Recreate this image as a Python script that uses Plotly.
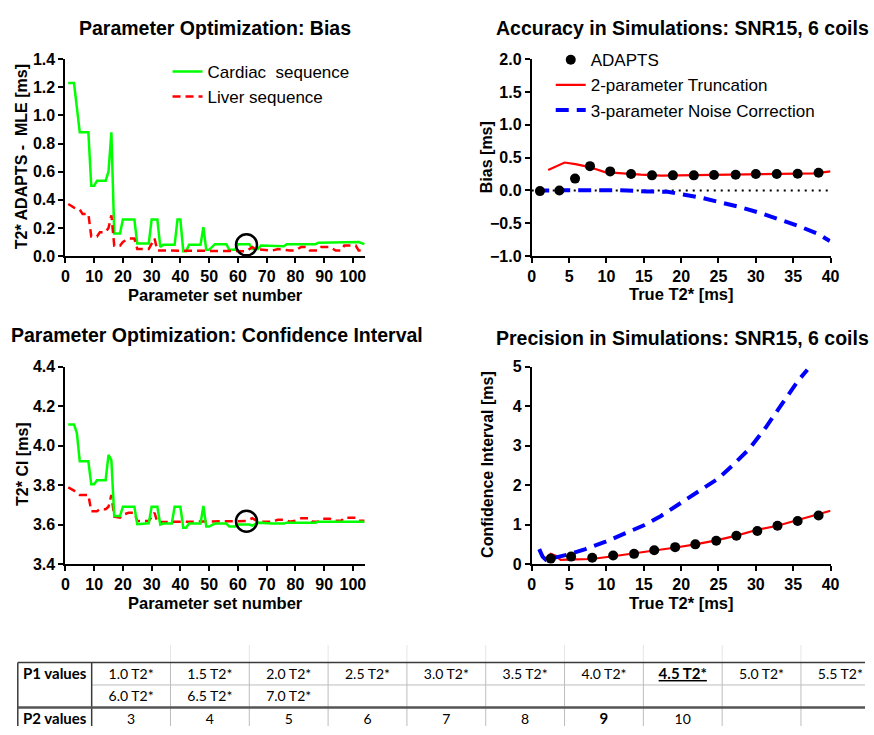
import plotly.graph_objects as go

# ---------------- Data: Parameter optimization, bias ----------------
cardiac_bias_x = [1, 3, 5, 8, 9, 10, 11, 14, 15, 16, 17, 19, 20, 24, 25, 29, 30, 32, 33, 34, 38, 39, 40, 41, 42,
                  43, 47, 48, 49, 50, 52, 56, 57, 59, 60, 64, 65, 67, 68, 72, 73, 76, 77, 87, 88, 96, 97, 102, 104]
cardiac_bias_y = [1.23, 1.23, 0.88, 0.88, 0.50, 0.50, 0.535, 0.535, 0.60, 0.88, 0.16, 0.16, 0.26, 0.26, 0.09, 0.09,
                  0.26, 0.26, 0.065, 0.08, 0.08, 0.26, 0.26, 0.035, 0.035, 0.08, 0.08, 0.205, 0.045, 0.045, 0.085,
                  0.085, 0.045, 0.045, 0.085, 0.085, 0.05, 0.05, 0.075, 0.075, 0.07, 0.07, 0.085, 0.085, 0.095,
                  0.095, 0.10, 0.10, 0.085]
liver_bias_x = [1, 3, 5, 6, 8, 9, 11, 12, 14, 15, 16, 17, 19, 20, 22, 24, 25, 29, 31, 32, 33, 60, 63, 65, 66, 72,
                74, 78, 80, 82, 84, 85, 88, 89, 92, 94, 96, 97, 101, 102, 104]
liver_bias_y = [0.37, 0.345, 0.33, 0.30, 0.30, 0.14, 0.14, 0.17, 0.17, 0.20, 0.29, 0.074, 0.074, 0.10, 0.125, 0.125,
                0.05, 0.05, 0.125, 0.04, 0.04, 0.04, 0.035, 0.065, 0.05, 0.04, 0.05, 0.04, 0.04, 0.065, 0.065,
                0.04, 0.04, 0.065, 0.065, 0.04, 0.04, 0.075, 0.075, 0.04, 0.04]
optimum_set = [63]
optimum_bias = [0.08]

# ---------------- Data: Parameter optimization, confidence interval ----------------
cardiac_ci_x = [1, 3, 4, 5, 8, 9, 10, 11, 14, 15, 16, 17, 19, 20, 24, 25, 29, 30, 32, 33, 34, 37, 38, 40, 41, 42,
                43, 47, 48, 49, 50, 52, 56, 57, 59, 60, 64, 65, 67, 72, 76, 77, 87, 88, 104]
cardiac_ci_y = [4.107, 4.107, 4.063, 3.92, 3.92, 3.804, 3.804, 3.824, 3.824, 3.953, 3.926, 3.643, 3.643, 3.69,
                3.69, 3.602, 3.607, 3.69, 3.69, 3.60, 3.605, 3.605, 3.69, 3.69, 3.584, 3.584, 3.605, 3.605, 3.695,
                3.59, 3.59, 3.605, 3.605, 3.59, 3.59, 3.60, 3.60, 3.595, 3.61, 3.605, 3.605, 3.61, 3.61, 3.615,
                3.615]
liver_ci_x = [1, 3, 5, 8, 9, 11, 12, 14, 15, 16, 17, 19, 20, 22, 24, 25, 29, 31, 32, 58, 60, 63, 65, 67, 72, 74,
              76, 78, 80, 82, 85, 86, 88, 89, 92, 93, 96, 97, 101, 102, 104]
liver_ci_y = [3.788, 3.772, 3.75, 3.75, 3.668, 3.668, 3.678, 3.678, 3.69, 3.75, 3.64, 3.635, 3.65, 3.66, 3.66,
              3.618, 3.618, 3.66, 3.613, 3.615, 3.618, 3.618, 3.632, 3.615, 3.615, 3.625, 3.625, 3.615, 3.62,
              3.632, 3.632, 3.615, 3.615, 3.63, 3.63, 3.62, 3.62, 3.635, 3.635, 3.62, 3.62]
optimum_ci = [3.617]

# ---------------- Data: Accuracy in simulations ----------------
adapts_bias_t2 = [1.1, 3.7, 5.8, 7.8, 10.5, 13.3, 16.1, 18.9, 21.7, 24.4, 27.3, 30.0, 32.8, 35.6, 38.4]
adapts_bias = [-0.01, 0.0, 0.18, 0.37, 0.29, 0.25, 0.23, 0.23, 0.23, 0.235, 0.24, 0.25, 0.25, 0.255, 0.27]
trunc_bias_t2 = [2.2, 3.9, 4.4, 5.85, 7.6, 9.8, 12.0, 14.6, 17.3, 20.8, 26.9, 31.3, 37.9, 40.0]
trunc_bias = [0.31, 0.39, 0.425, 0.40, 0.36, 0.28, 0.26, 0.24, 0.225, 0.23, 0.24, 0.25, 0.26, 0.29]
noise_bias_t2 = [0.6, 11.1, 15.5, 18.2, 19.9, 22.5, 25.2, 27.8, 30.5, 33.1, 35.7, 38.4, 39.9]
noise_bias = [0.0, 0.005, -0.015, -0.02, -0.055, -0.105, -0.18, -0.25, -0.34, -0.44, -0.54, -0.665, -0.77]

# ---------------- Data: Precision in simulations ----------------
adapts_ci_t2 = [2.55, 5.27, 8.1, 10.9, 13.7, 16.4, 19.2, 21.9, 24.7, 27.4, 30.2, 32.9, 35.6, 38.4]
adapts_ci = [0.14, 0.19, 0.16, 0.22, 0.26, 0.35, 0.43, 0.50, 0.59, 0.72, 0.84, 0.97, 1.09, 1.23]
trunc_ci_t2 = [2.33, 2.55, 3.2, 3.87, 5.85, 8.0, 10.9, 13.8, 16.4, 19.3, 21.9, 24.7, 27.4, 30.2, 32.9, 35.7,
               38.4, 40.0]
trunc_ci = [0.15, 0.26, 0.21, 0.107, 0.12, 0.13, 0.20, 0.27, 0.34, 0.42, 0.50, 0.60, 0.72, 0.87, 0.97, 1.12,
            1.25, 1.35]
noise_ci_t2 = [1.0, 1.45, 1.9, 3.4, 5.0, 7.2, 9.8, 12.4, 15.1, 17.3, 19.9, 22.5, 25.0, 26.9, 29.1, 31.3, 33.5,
               35.7, 36.9]
noise_ci = [0.38, 0.19, 0.11, 0.17, 0.25, 0.38, 0.56, 0.77, 0.99, 1.22, 1.55, 1.88, 2.17, 2.5, 2.91, 3.45, 4.03,
            4.65, 4.92]

# ---------------- Data: table ----------------
row_labels = ["P1 values", "", "P2 values"]
p1_values_row1 = ["1.0 T2*", "1.5 T2*", "2.0 T2*", "2.5 T2*", "3.0 T2*", "3.5 T2*", "4.0 T2*", "4.5 T2*",
                  "5.0 T2*", "5.5 T2*"]
p1_values_row2 = ["6.0 T2*", "6.5 T2*", "7.0 T2*", "", "", "", "", "", "", ""]
p2_values = ["3", "4", "5", "6", "7", "8", "9", "10", "", ""]
chosen_p1 = "4.5 T2*"
chosen_p2 = "9"

# ---------------- Styling ----------------
W, H = 874, 735
FONT = "Liberation Sans, Arial, sans-serif"
GREEN, RED, BLUE = "#00FF00", "#FF0000", "#0000FF"
BOLD = dict(family=FONT, size=16, color="black", weight="bold")


def px_x(p):
    return p / W


def px_y(p):
    return 1 - p / H


fig = go.Figure()

# Top-left
fig.add_trace(go.Scatter(x=cardiac_bias_x, y=cardiac_bias_y, mode="lines", name="Cardiac  sequence",
                         line=dict(color=GREEN, width=2.5), xaxis="x", yaxis="y", legend="legend"))
fig.add_trace(go.Scatter(x=liver_bias_x, y=liver_bias_y, mode="lines", name="Liver sequence",
                         line=dict(color=RED, width=2.5, dash="8px,5px"), xaxis="x", yaxis="y", legend="legend"))
fig.add_trace(go.Scatter(x=optimum_set, y=optimum_bias, mode="markers", showlegend=False,
                         marker=dict(symbol="circle-open", size=21, color="black", line=dict(width=2.5)),
                         xaxis="x", yaxis="y"))

# Bottom-left
fig.add_trace(go.Scatter(x=liver_ci_x, y=liver_ci_y, mode="lines", showlegend=False,
                         line=dict(color=RED, width=2.5, dash="8px,5px"), xaxis="x3", yaxis="y3"))
fig.add_trace(go.Scatter(x=cardiac_ci_x, y=cardiac_ci_y, mode="lines", showlegend=False,
                         line=dict(color=GREEN, width=2.5), xaxis="x3", yaxis="y3"))
fig.add_trace(go.Scatter(x=optimum_set, y=optimum_ci, mode="markers", showlegend=False,
                         marker=dict(symbol="circle-open", size=21, color="black", line=dict(width=2.5)),
                         xaxis="x3", yaxis="y3"))

# Top-right
fig.add_trace(go.Scatter(x=trunc_bias_t2, y=trunc_bias, mode="lines", name="2-parameter Truncation",
                         line=dict(color=RED, width=2.2), xaxis="x2", yaxis="y2", legend="legend2", legendrank=2))
fig.add_trace(go.Scatter(x=noise_bias_t2, y=noise_bias, mode="lines", name="3-parameter Noise Correction",
                         line=dict(color=BLUE, width=4, dash="13px,8px"), xaxis="x2", yaxis="y2",
                         legend="legend2", legendrank=3))
fig.add_trace(go.Scatter(x=adapts_bias_t2, y=adapts_bias, mode="markers", name="ADAPTS",
                         marker=dict(color="black", size=10), xaxis="x2", yaxis="y2", legend="legend2",
                         legendrank=1))

# Bottom-right
fig.add_trace(go.Scatter(x=trunc_ci_t2, y=trunc_ci, mode="lines", showlegend=False,
                         line=dict(color=RED, width=2.2), xaxis="x4", yaxis="y4"))
fig.add_trace(go.Scatter(x=noise_ci_t2, y=noise_ci, mode="lines", showlegend=False,
                         line=dict(color=BLUE, width=4, dash="13px,8px"), xaxis="x4", yaxis="y4"))
fig.add_trace(go.Scatter(x=adapts_ci_t2, y=adapts_ci, mode="markers", showlegend=False,
                         marker=dict(color="black", size=10), xaxis="x4", yaxis="y4"))

# ---------------- Table (text placed on a hidden cartesian subplot) ----------------
tab_left, tab_top = 14, 670
row_h = 23
text_drop = 1.5
lab_w, col_w = 75, 80
n_cols = len(p1_values_row1)
edges = [0, lab_w] + [lab_w + col_w * (i + 1) for i in range(n_cols)]
centers = [(edges[i] + edges[i + 1]) / 2 for i in range(n_cols + 1)]


def fmt_p1(v):
    return f"<b><u>{v}</u></b>" if v == chosen_p1 else v


def fmt_p2(v):
    return f"<b>{v}</b>" if v == chosen_p2 else v


rows = [
    [f"<b>{row_labels[0]}</b>"] + [fmt_p1(v) for v in p1_values_row1],
    [row_labels[1]] + [fmt_p1(v) for v in p1_values_row2],
    [f"<b>{row_labels[2]}</b>"] + [fmt_p2(v) for v in p2_values],
]
tx, ty, tt, ts = [], [], [], []
for r, row in enumerate(rows):
    for c, txt in enumerate(row):
        if txt:
            tx.append(centers[c])
            ty.append(r)
            tt.append(txt)
            ts.append(15 if txt.startswith("<b>") else 14)
fig.add_trace(go.Scatter(x=tx, y=ty, text=tt, mode="text", showlegend=False, hoverinfo="skip",
                         textfont=dict(family="Lato, Liberation Sans, sans-serif", size=ts, color="black"),
                         xaxis="x5", yaxis="y5", cliponaxis=False))

axis_common = dict(showline=True, linecolor="black", linewidth=2, ticks="outside", ticklen=5, tickwidth=2,
                   tickcolor="black", showgrid=False, zeroline=False, tickfont=BOLD)

xd_left = [px_x(62.3), px_x(366.7)]
xd_right = [px_x(535.7), px_x(839)]
yd_top = [px_y(254), px_y(52.3)]
yd_bot = [px_y(569.3), px_y(367)]

fig.update_layout(
    width=W, height=H, margin=dict(l=0, r=0, t=0, b=0),
    paper_bgcolor="white", plot_bgcolor="white",
    xaxis=dict(domain=xd_left, range=[0, 104.3], tickvals=list(range(0, 101, 10)), anchor="y", **axis_common),
    yaxis=dict(domain=yd_top, range=[0, 1.4], dtick=0.2, tickformat=".1f", anchor="x", **axis_common),
    xaxis2=dict(domain=xd_right, range=[0, 40], dtick=5, anchor="y2", **axis_common),
    yaxis2=dict(domain=yd_top, range=[-1, 2], dtick=0.5, tickformat=".1f", anchor="x2", **axis_common),
    xaxis3=dict(domain=xd_left, range=[0, 104.3], tickvals=list(range(0, 101, 10)), anchor="y3",
                **axis_common),
    yaxis3=dict(domain=yd_bot, range=[3.4, 4.4], dtick=0.2, tickformat=".1f", anchor="x3", **axis_common),
    xaxis4=dict(domain=xd_right, range=[0, 40], dtick=5, anchor="y4", **axis_common),
    yaxis4=dict(domain=yd_bot, range=[0, 5], dtick=1, anchor="x4", **axis_common),
    xaxis5=dict(domain=[px_x(tab_left), 1.0], range=[0, W - tab_left], visible=False, fixedrange=True,
                anchor="y5"),
    # domain spans from the table top to the centre of the last row: rows -0.5 .. 2.0
    yaxis5=dict(domain=[px_y(tab_top + 2.5 * row_h + text_drop), px_y(tab_top + text_drop)], range=[2.0, -0.5],
                visible=False, fixedrange=True, anchor="x5"),
    legend=dict(x=px_x(166), y=px_y(47), xanchor="left", yanchor="top", bgcolor="rgba(0,0,0,0)",
                font=dict(family=FONT, size=17, color="black"), itemwidth=30, tracegroupgap=0),
    legend2=dict(x=px_x(555), y=px_y(35), xanchor="left", yanchor="top", bgcolor="rgba(0,0,0,0)",
                 font=dict(family=FONT, size=17, color="black"), itemwidth=30, tracegroupgap=0),
    showlegend=True,
)

# zero reference line in accuracy plot
fig.add_shape(type="line", xref="x2", yref="y2", x0=0, x1=40, y0=0, y1=0,
              line=dict(color="black", width=2, dash="2px,5px"), layer="below")

# table grid lines (pixel geometry)
LIGHT, FAINT, DARK = "#bdbdbd", "#e6e6e6", "#3a3a3a"
lines = []
for e in edges[2:]:
    lines.append((tab_left + e, 652, tab_left + e, tab_top, 1, FAINT))
    lines.append((tab_left + e, tab_top, tab_left + e, H, 1, LIGHT))
lines.append((tab_left + lab_w, tab_top + row_h, W, tab_top + row_h, 1, LIGHT))
lines += [(tab_left, tab_top, W, tab_top, 1.5, DARK), (tab_left, tab_top, tab_left, H, 1.5, DARK),
          (tab_left + lab_w, tab_top, tab_left + lab_w, H, 1.5, DARK),
          (tab_left, tab_top + 2 * row_h, W, tab_top + 2 * row_h, 2.5, "#555555")]
for (x0, y0, x1, y1, w, c) in lines:
    fig.add_shape(type="line", xref="paper", yref="paper", x0=px_x(x0), x1=px_x(x1), y0=px_y(y0),
                  y1=px_y(y1), line=dict(color=c, width=w))

# titles
TITLE = dict(family=FONT, size=19.5, color="black", weight="bold")
AXT = dict(family=FONT, size=16.5, color="black", weight="bold")
AYT = dict(family=FONT, size=16, color="black", weight="bold")
ann = [
    ("Parameter Optimization: Bias", 214, 20, 0, TITLE),
    ("Accuracy in Simulations: SNR15, 6 coils", 689, 20, 0, TITLE),
    ("Parameter Optimization: Confidence Interval", 216, 335, 0, TITLE),
    ("Precision in Simulations: SNR15, 6 coils", 689, 338, 0, TITLE),
    ("Parameter set number", 215, 294, 0, AXT),
    ("True T2* [ms]", 688, 293, 0, AXT),
    ("Parameter set number", 215, 609, 0, AXT),
    ("True T2* [ms]", 688, 609, 0, AXT),
    ("T2* ADAPTS -  MLE [ms]", 18, 152, -90, AYT),
    ("Bias [ms]", 490, 153, -90, AYT),
    ("T2* CI [ms]", 18, 467, -90, AYT),
    ("Confidence Interval [ms]", 490, 467, -90, AYT),
]
for text, x, y, ang, f in ann:
    fig.add_annotation(text=text, x=px_x(x), y=px_y(y), xref="paper", yref="paper", showarrow=False,
                       xanchor="center", yanchor="middle", textangle=ang, font=f)

fig.write_html("out.html")
